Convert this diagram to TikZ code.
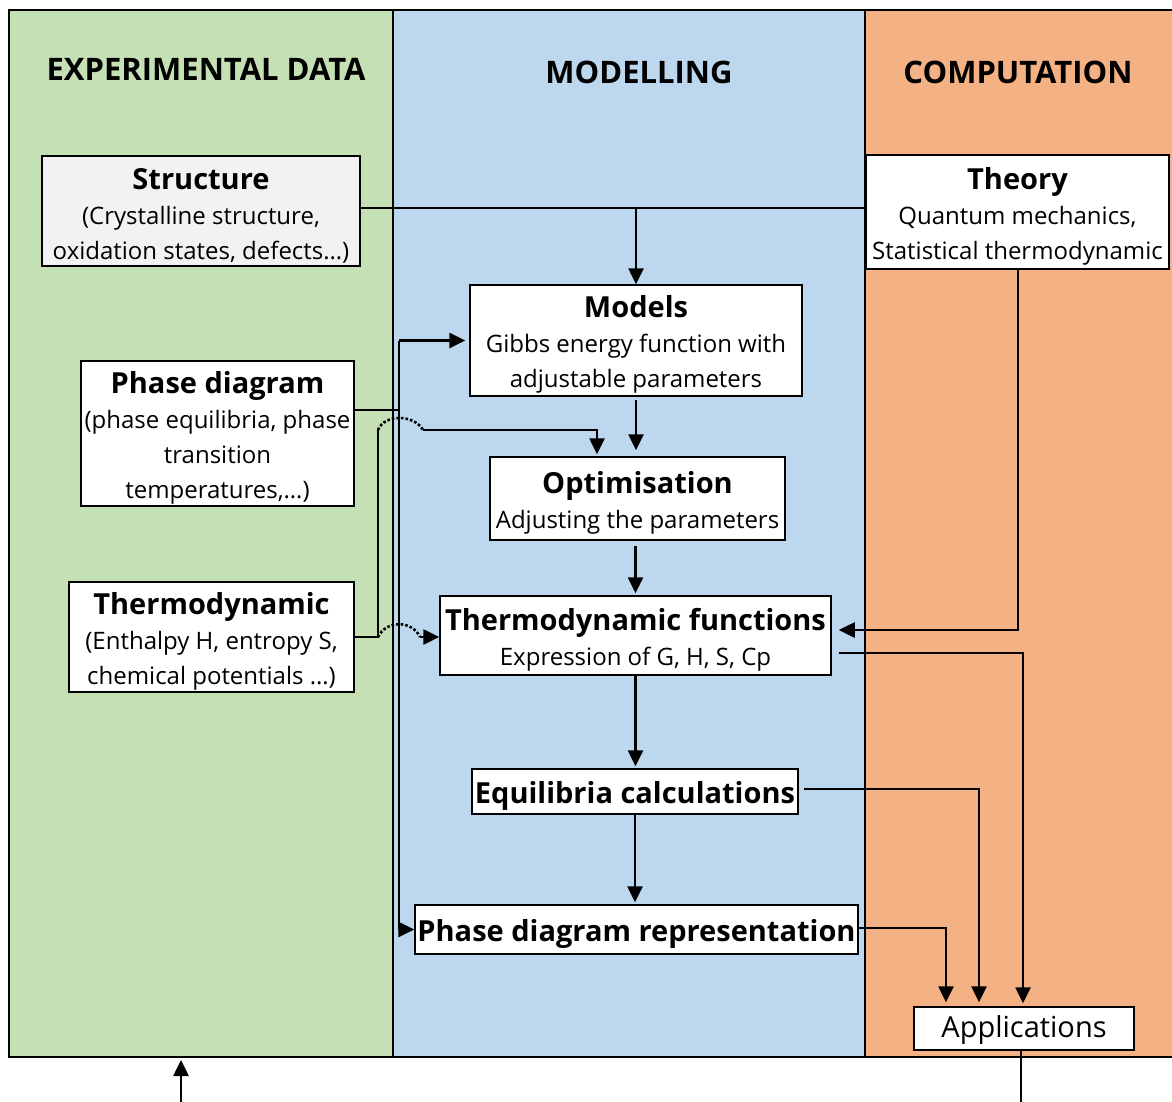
\documentclass[tikz,border=0pt]{standalone}
\usepackage{fontspec}
\setmainfont{Open Sans}
\usetikzlibrary{arrows.meta}
\definecolor{expgreen}{HTML}{C5E0B4}
\definecolor{modblue}{HTML}{BDD7EE}
\definecolor{comporange}{HTML}{F4B183}
\newcommand{\boxtitle}[1]{{\fontsize{29}{38}\selectfont\bfseries\rule{0pt}{30pt}#1}}
\tikzset{
  panel/.style={draw, line width=1.3pt},
  header/.style={font=\fontsize{31}{36}\selectfont\bfseries},
  box/.style={draw, fill=white, line width=1.5pt, align=center, inner sep=1pt,
    font=\fontsize{24}{35}\selectfont},
  arr/.style={-{Triangle[length=16pt,width=15pt]}, line width=2.6pt},
  link/.style={line width=2.6pt},
  hop/.style={line width=2.6pt, dotted},
}
\begin{document}
\begin{tikzpicture}[x=1pt,y=-1pt]
    \useasboundingbox (0,0) rectangle (1172,1102);
    % columns
    \draw[panel, fill=expgreen] (9,10) rectangle (393,1057);
    \draw[panel, fill=modblue] (393,10) rectangle (865,1057);
    \draw[panel, fill=comporange] (865,10) rectangle (1174,1057);
    \node[header] (hexp) at (206,69) {EXPERIMENTAL DATA};
    \node[header] (hmod) at (639,72) {MODELLING};
    \node[header] (hcomp) at (1018,72) {COMPUTATION};
    % experimental data
    \node[box, fill=gray!10, minimum width=318pt, minimum height=110pt] (structure) at (201,211)
      {\boxtitle{Structure}\\(Crystalline structure,\\oxidation states, defects…)};
    \node[box, minimum width=273pt, minimum height=145pt] (phase) at (217.5,433.5)
      {\boxtitle{Phase diagram}\\(phase equilibria, phase\\transition\\temperatures,…)};
    \node[box, minimum width=285pt, minimum height=110pt] (thermo) at (211.5,637)
      {\boxtitle{Thermodynamic}\\(Enthalpy H, entropy S,\\chemical potentials …)};
    % modelling
    \node[box, minimum width=332pt, minimum height=111pt] (models) at (636,340.5)
      {\boxtitle{Models}\\Gibbs energy function with\\adjustable parameters};
    \node[box, minimum width=295pt, minimum height=83pt] (optim) at (637.5,498.5)
      {\boxtitle{Optimisation}\\Adjusting the parameters};
    \node[box, minimum width=391pt, minimum height=79pt] (tfunc) at (635.5,635.5)
      {\boxtitle{Thermodynamic functions}\\Expression of G, H, S, Cp};
    \node[box, minimum width=326pt, minimum height=45pt] (equil) at (635,791.5)
      {\boxtitle{Equilibria calculations}};
    \node[box, minimum width=443pt, minimum height=49pt] (rep) at (636.5,929.5)
      {\boxtitle{Phase diagram representation}};
    % computation
    \node[box, minimum width=303pt, minimum height=114pt] (theory) at (1017.5,212)
      {\boxtitle{Theory}\\Quantum mechanics,\\Statistical thermodynamic};
    \node[box, minimum width=220pt, minimum height=43pt, font=\fontsize{29}{34}\selectfont] (apps) at (1024,1028.5)
      {\rule{0pt}{24pt}Applications};
    % structure and theory -> models
    \draw[link] ([yshift=3pt]structure.east) -- ([yshift=3pt]structure.east -| theory.west);
    \draw[arr] ([yshift=3pt]models.north |- structure.east) -- (models.north);
    % phase diagram -> models, representation
    \coordinate (bus) at (399,410);
    \draw[link] (phase.east |- bus) -- (bus);
    \draw[link] (bus |- models.west) -- (bus |- rep.west);
    \draw[arr, shorten >=4pt] (bus |- models.west) -- (models.west);
    \draw[arr] (bus |- rep.west) -- (rep.west);
    % thermodynamic -> optimisation, functions (hops over the bus)
    \coordinate (tturn) at (378,637);
    \draw[link] (thermo.east) -- (tturn) -- (378,430);
    \draw[hop] (378,430) .. controls (384,414) and (414,414) .. (423,430);
    \draw[arr, shorten >=2pt] (423,430) -| (optim.north -| 597,0);
    \draw[hop] (tturn) .. controls (386,620) and (412,620) .. (420,637);
    \draw[arr] (420,637) -- (tfunc.west |- tturn);
    % modelling chain
    \draw[arr, shorten <=3pt, shorten >=6pt] (models.south) -- (models.south |- optim.north);
    \draw[arr, shorten <=5pt, shorten >=2pt] (optim.south -| tfunc.north) -- (tfunc.north);
    \draw[arr, shorten >=2pt] (tfunc.south) -- (tfunc.south |- equil.north);
    \draw[arr, shorten >=2pt] (equil.south) -- (equil.south |- rep.north);
    % theory -> functions
    \draw[arr, shorten >=7pt] (theory.south -| 1018,0) |- (tfunc.east |- 0,630);
    % applications
    \draw[arr, shorten >=3pt] ([xshift=7pt]tfunc.east |- 0,653) -| (apps.north -| 1023,0);
    \draw[arr, shorten >=4pt] ([xshift=5pt]equil.east |- 0,789) -| (apps.north -| 979,0);
    \draw[arr, shorten >=4pt] (rep.east |- 0,928) -| (apps.north -| 946,0);
    \draw[link] (apps.south -| 1021,0) -- (1021,1102);
    \draw[arr] (181,1102) -- (181,1060);
\end{tikzpicture}
\end{document}
